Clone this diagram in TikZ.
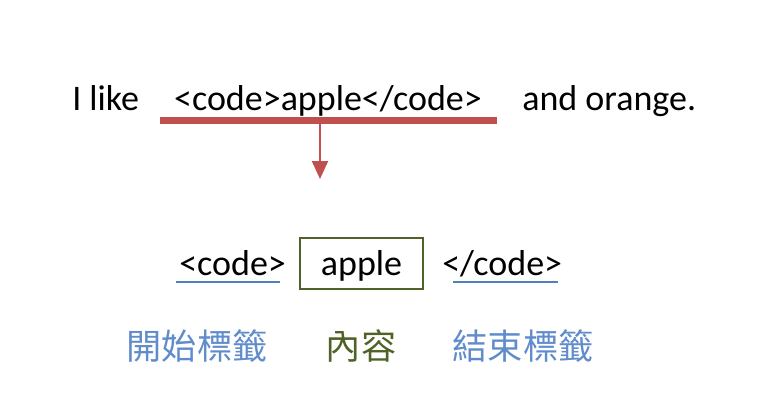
\documentclass[tikz,border=0pt]{standalone}
\usepackage{fontspec}
\setmainfont{Carlito}
\newfontfamily\cjk{Noto Sans CJK TC}
\usetikzlibrary{arrows.meta,positioning,calc}
\definecolor{tagred}{RGB}{192,80,77}
\definecolor{tagblue}{RGB}{79,129,189}
\definecolor{lblblue}{RGB}{96,140,204}
\definecolor{tagolive}{RGB}{79,98,40}
\tikzset{
  tagtext/.style={inner sep=0pt, anchor=base, font=\fontsize{27}{30}\selectfont},
  cjklbl/.style={inner sep=0pt, font=\cjk\fontsize{26.4}{30}\selectfont},
  tagbox/.style={draw=tagolive, line width=1.6pt, minimum width=92pt, minimum height=38pt},
  redbar/.style={tagred, line width=5.3pt},
  downarr/.style={-{Triangle[width=12pt,length=13.5pt]}, tagred, line width=1.5pt},
  tagline/.style={tagblue, line width=1.6pt}
}
\begin{document}
\begin{tikzpicture}[x=0.75pt,y=-0.75pt]
  \useasboundingbox (0,0) rectangle (767,404);
  % sentence
  \node[tagtext,anchor=base west] (like) at (72,110) {I like};
  \node[tagtext] (whole) at (328,110) {<code>apple</code>};
  \node[tagtext,anchor=base west] (orange) at (522,110) {and orange.};
  \coordinate (barL) at (160,120.5);
  \coordinate (barR) at (497,120.5);
  \draw[redbar] (barL) -- (barR);
  \coordinate (arrtop) at (320,124);
  \coordinate (arrtip) at (320,179);
  \draw[downarr] (arrtop) -- (arrtip);
  % split parts
  \node[tagbox] (box) at (361.5,263.5) {};
  \node[tagtext] (content) at (box.center |- 0,275) {apple};
  \node[tagtext,anchor=base west] (opentag) at (179,275) {<code>};
  \node[tagtext,anchor=base west] (closetag) at (442,275) {</code>};
  \draw[tagline] ($(opentag.base west)+(-3,7)$) -- ($(opentag.base east)+(-6,7)$);
  \draw[tagline] ($(closetag.base west)+(11,7)$) -- ($(closetag.base east)+(-4,7)$);
  % labels
  \node[cjklbl,text=lblblue] (openlbl) at (197,346) {開始標籤};
  \node[cjklbl,text=tagolive] (contentlbl) at (361,346) {內容};
  \node[cjklbl,text=lblblue] (closelbl) at (523,346) {結束標籤};
\end{tikzpicture}
\end{document}
